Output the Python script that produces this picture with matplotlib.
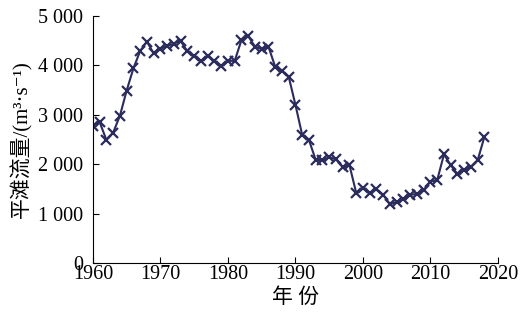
import matplotlib
matplotlib.use('Agg')
import matplotlib.pyplot as plt
from matplotlib.ticker import FuncFormatter
import numpy as np

plt.rcParams['font.family'] = ['Liberation Serif', 'Noto Sans CJK SC', 'DejaVu Serif']

years = np.arange(1960, 2019)
flow = [2780, 2850, 2490, 2640, 2980, 3490, 3940, 4290, 4480, 4240,
        4340, 4390, 4440, 4490, 4280, 4180, 4090, 4190, 4090, 3990,
        4090, 4090, 4510, 4590, 4380, 4330, 4380, 3970, 3890, 3770,
        3200, 2590, 2490, 2085, 2085, 2140, 2100, 1940, 1980, 1420,
        1510, 1420, 1490, 1380, 1190, 1240, 1290, 1380, 1400, 1480,
        1650, 1680, 2200, 1980, 1800, 1880, 1950, 2085, 2560]

x_ticks = np.arange(1960, 2021, 10)
y_ticks = np.arange(0, 5001, 1000)

fig = plt.figure(figsize=(5.22, 3.24), dpi=100)
ax = fig.add_axes([0.178, 0.188, 0.776, 0.763])

ax.plot(years, flow, color='#2b2b5c', lw=1.5, marker='x', ms=6.5, mew=1.6)

ax.set_xlim(1960, 2020)
ax.set_ylim(0, 5000)
ax.set_xticks(x_ticks)
ax.set_yticks(y_ticks)
ax.yaxis.set_major_formatter(FuncFormatter(lambda v, p: f'{int(v):,}'.replace(',', ' ')))
ax.tick_params(direction='in', length=4, width=0.8, labelsize=14.5)
ax.tick_params(axis='y', pad=7)
ax.tick_params(axis='x', pad=1.5)

for s in ['top', 'right']:
    ax.spines[s].set_visible(False)

ax.set_xlabel('年 份', fontsize=15, labelpad=3)
ax.set_ylabel('平滩流量/(m³·s⁻¹)', fontsize=15, labelpad=4)

fig.savefig('out.png', dpi=100)
